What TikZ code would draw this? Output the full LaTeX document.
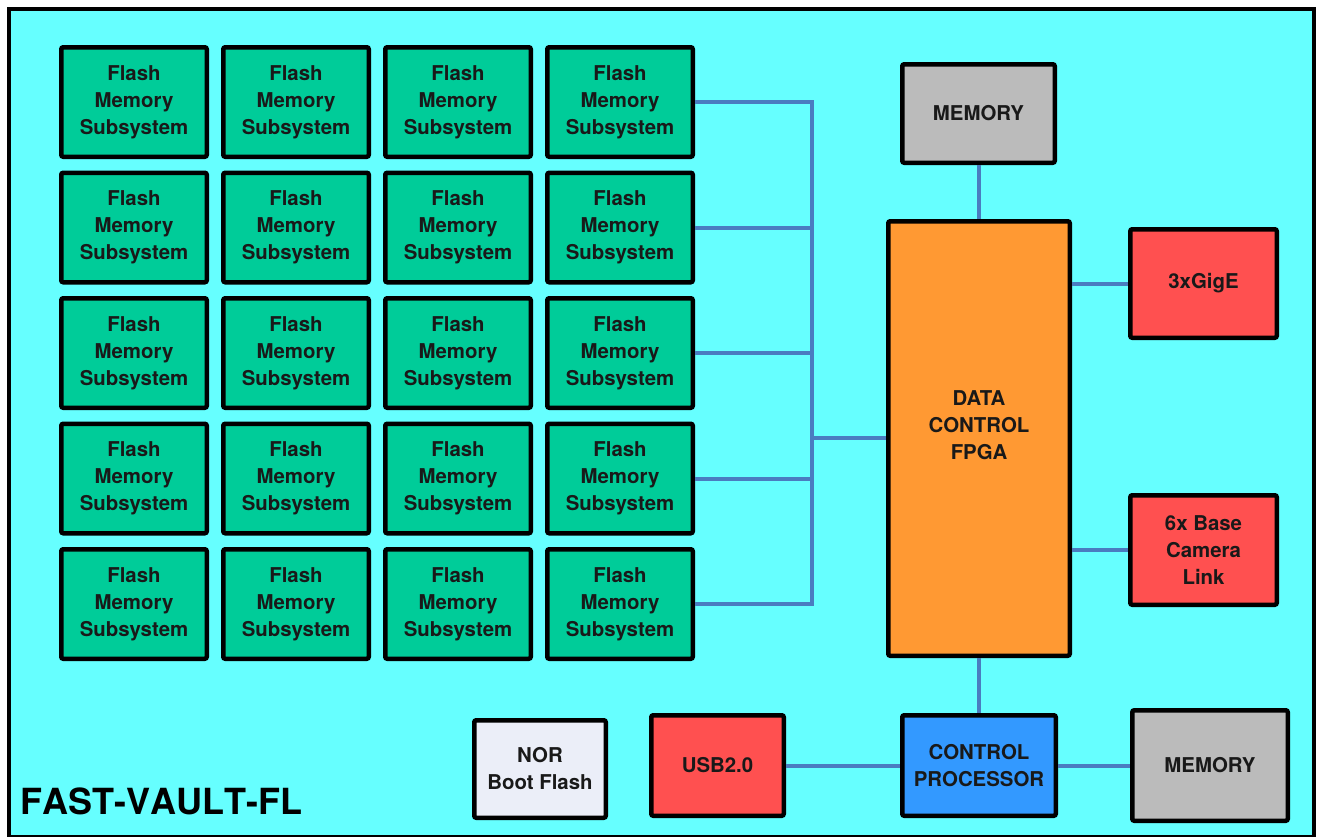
\documentclass[tikz,border=0pt]{standalone}
\usepackage{fontspec}
\setmainfont{TeX Gyre Heros}
\usetikzlibrary{calc}
\definecolor{bgcyan}{HTML}{66FFFF}
\definecolor{flashgreen}{HTML}{00CC99}
\definecolor{memgray}{HTML}{BBBBBB}
\definecolor{fpgaorange}{HTML}{FF9933}
\definecolor{ifred}{HTML}{FF5050}
\definecolor{cpblue}{HTML}{3399FF}
\definecolor{norwhite}{HTML}{EBEEF8}
\definecolor{buscol}{HTML}{4A7CC0}
\tikzset{
  blk/.style={draw=black, line width=4.5pt, rounded corners=2pt, align=center,
    font=\bfseries\fontsize{20.4}{27}\selectfont, inner sep=0pt, text=black!90},
  flashbox/.style={blk, fill=flashgreen, minimum width=145.5pt, minimum height=109.5pt},
  bus/.style={draw=buscol, line width=4pt},
  txt/.style={align=center, font=\bfseries\fontsize{20.4}{27}\selectfont, text=black!90, inner sep=0pt}
}
\begin{document}
\begin{tikzpicture}[x=1pt,y=-1pt]
\useasboundingbox (0,0) rectangle (1321,836);
\draw[fill=bgcyan, line width=4pt] (9,9) rectangle (1314,837);
% flash grid
\foreach \r in {1,...,5}{
  \foreach \c in {1,...,4}{
    \node[flashbox] (f\r\c) at ({134+162*(\c-1)},{102+125.5*(\r-1)}) {Flash\\Memory\\Subsystem};
  }
}
% other blocks
\node[blk, fill=fpgaorange, minimum width=181.5pt, minimum height=434.5pt] (fpga) at (979,438.5) {};
\node[txt] (fpgatxt) at ($(fpga.center)+(0,-13)$) {DATA\\CONTROL\\FPGA};
\node[blk, fill=memgray, minimum width=152.5pt, minimum height=98.5pt] (memtop) at (978.5,113.5) {MEMORY};
\node[blk, fill=ifred, minimum width=146.5pt, minimum height=108.5pt] (gige) at (1203.5,283.5) {3xGigE};
\node[blk, fill=ifred, minimum width=146.5pt, minimum height=109.5pt] (cam) at (1203.5,550) {6x Base\\Camera\\Link};
\node[blk, fill=norwhite, minimum width=131.5pt, minimum height=97.5pt] (nor) at (540,769) {NOR\\Boot Flash};
\node[blk, fill=ifred, minimum width=132.5pt, minimum height=100.5pt] (usb) at (717.5,765.5) {USB2.0};
\node[blk, fill=cpblue, minimum width=153.5pt, minimum height=100.5pt] (cp) at (979,765.5) {CONTROL\\PROCESSOR};
\node[blk, fill=memgray, minimum width=155.5pt, minimum height=110.5pt] (membot) at (1210,765.5) {MEMORY};
\node[anchor=base west, font=\bfseries\fontsize{36}{40}\selectfont\addfontfeatures{Kerning=Off}, inner sep=0pt] (title) at (20,814) {FAST-VAULT-FL};
% bus
\coordinate (bt) at (812,102);
\coordinate (bb) at (812,604);
\coordinate (bj) at (812,438);
\draw[bus] (f14.east) -- (bt) -- (bb) -- (f54.east);
\foreach \r in {2,3,4}{
  \draw[bus] (f\r4.east) -- (f\r4.east -| bt);
}
\draw[bus] (bj) -- (bj -| fpga.west);
\draw[bus] (memtop.south) -- (memtop.south |- fpga.north);
\draw[bus] (fpga.east |- gige.west) -- (gige.west);
\draw[bus] (fpga.east |- cam.west) -- (cam.west);
\draw[bus] (fpga.south -| cp.north) -- (cp.north);
\draw[bus] (usb.east) -- (usb.east -| cp.west);
\draw[bus] (cp.east) -- (cp.east -| membot.west);
\end{tikzpicture}
\end{document}
